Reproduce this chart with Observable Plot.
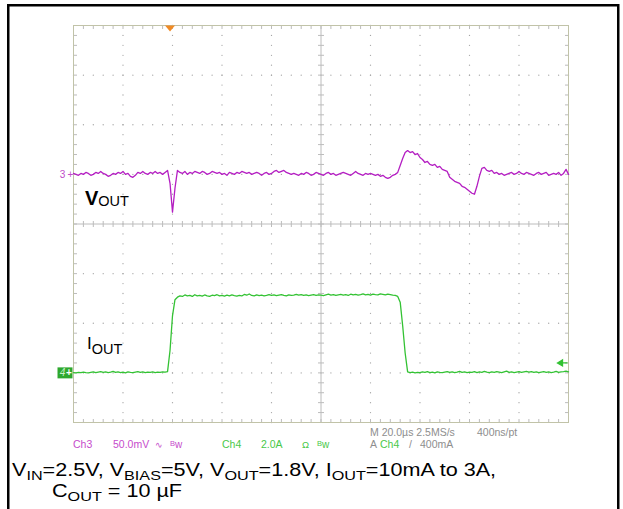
<!DOCTYPE html>
<html>
<head>
<meta charset="utf-8">
<script src="https://cdn.jsdelivr.net/npm/d3@7"></script>
<script src="https://cdn.jsdelivr.net/npm/@observablehq/plot@0.6"></script>
<style>
  html, body { margin: 0; padding: 0; background: #fff; }
  #page { position: relative; width: 623px; height: 509px; overflow: hidden; font-family: "Liberation Sans", Arial, sans-serif; }
  #chart, #overlay { position: absolute; left: 0; top: 0; }
</style>
</head>
<body>
<div id="page">
  <div id="chart"></div>
  <svg id="overlay" width="623" height="509"></svg>
</div>
<script>
// ---- data ----
// time samples, µs (trigger at 0, 20 µs/div, 10 divisions)
const timeUs = d3.range(-40, 161);
// Ch3: VOUT (AC coupled), mV around its own baseline, 50 mV/div
const voutMv = [
  1,0,-1,1,0,2,1,-1,0,2,
  1,3,1,0,-2,-1,1,0,2,1,
  3,0,1,-2,-3,-1,2,1,3,1,
  0,2,1,3,1,2,0,2,4,-9,
  -38,-14,4,2,1,3,0,2,1,3,
  2,1,3,2,0,1,3,2,1,2,
  0,1,-1,2,1,0,2,1,3,2,
  1,2,0,1,2,1,-1,1,2,0,
  1,3,4,2,3,4,2,1,0,1,
  0,-1,1,0,2,1,-1,0,2,1,
  0,-1,1,2,0,1,-1,0,1,2,
  1,0,-1,1,3,1,0,-1,1,0,
  1,0,-1,0,-2,-1,-3,-4,-3,-1,
  0,2,9,16,22,24,22,23,20,21,
  17,15,12,13,10,9,10,7,8,5,
  4,3,-3,-5,-7,-8,-9,-12,-13,-15,
  -17,-19,-20,-12,-2,6,7,4,3,4,
  1,2,0,1,-1,0,1,2,0,1,
  3,1,0,2,1,0,-1,1,2,0,
  1,2,-1,0,1,0,2,-1,1,5,0
];
// Ch4: IOUT, amperes, 2 A/div
const ioutA = [
  0.01,0.00,0.02,0.01,0.03,0.01,0.00,0.02,0.04,0.01,
  0.03,0.05,0.02,0.04,0.01,0.03,0.06,0.02,0.04,0.01,
  0.03,0.00,0.04,0.02,0.01,0.03,0.05,0.02,0.04,0.01,
  0.03,0.02,0.04,0.01,0.03,0.02,0.04,0.03,0.05,0.90,
  2.30,2.95,3.05,3.10,3.08,3.14,3.10,3.12,3.08,3.15,
  3.10,3.12,3.09,3.14,3.10,3.08,3.13,3.11,3.15,3.10,
  3.12,3.09,3.13,3.10,3.14,3.11,3.09,3.12,3.10,3.16,
  3.13,3.18,3.12,3.10,3.14,3.11,3.13,3.10,3.12,3.15,
  3.12,3.14,3.11,3.13,3.15,3.12,3.10,3.14,3.12,3.13,
  3.16,3.13,3.15,3.12,3.14,3.11,3.13,3.15,3.12,3.14,
  3.13,3.11,3.14,3.17,3.13,3.15,3.12,3.14,3.16,3.13,
  3.15,3.12,3.17,3.14,3.16,3.13,3.15,3.18,3.14,3.16,
  3.13,3.17,3.15,3.14,3.18,3.16,3.14,3.17,3.15,3.13,
  3.12,3.08,2.85,1.90,0.80,0.04,0.01,0.03,0.00,0.02,
  0.01,0.04,0.02,0.05,0.01,0.03,0.00,0.04,0.02,0.01,
  0.03,0.05,0.02,0.04,0.01,0.03,0.06,0.02,0.04,0.01,
  0.03,0.02,0.05,0.01,0.04,0.02,0.06,0.03,0.01,0.04,
  0.02,0.05,0.03,0.01,0.04,0.07,0.02,0.04,0.01,0.03,
  0.05,0.02,0.04,0.06,0.03,0.05,0.02,0.04,0.01,0.03,
  0.05,0.02,0.04,0.01,0.03,0.06,0.02,0.04,0.05,0.07,0.04
];
const voutPerDivMv = 50, voutOffsetDiv = 1;
const ioutPerDivA = 2, ioutOffsetDiv = -3;
const triggerTimeUs = -1, triggerLevelA = 0.4;

// ---- text ----
const traceLabels = [["V", "OUT"], ["I", "OUT"]];
const readoutCh3 = ["Ch3", "50.0mV", "∿", "Bw"];
const readoutCh4 = ["Ch4", "2.0A", "Ω", "Bw"];
const readoutTime = ["M 20.0µs 2.5MS/s", "400ns/pt"];
const readoutTrig = ["A", "Ch4", "/", "400mA"];
const captionLine1 = [["V",""],["IN","sub"],["=2.5V, V",""],["BIAS","sub"],["=5V, V",""],["OUT","sub"],["=1.8V, I",""],["OUT","sub"],["=10mA to 3A,",""]];
const captionLine2 = [["C",""],["OUT","sub"],[" = 10 µF",""]];

// ---- build ----
const magenta = "#b41ec2", green = "#33c233";
const vout = timeUs.map((t, i) => ({t, d: voutOffsetDiv + voutMv[i] / voutPerDivMv}));
const iout = timeUs.map((t, i) => ({t, d: ioutOffsetDiv + ioutA[i] / ioutPerDivA}));

const seg = (x1, y1, x2, y2) => ({draw(ctx, size) { const r = Math.sqrt(size / Math.PI); ctx.moveTo(x1 * r, y1 * r); ctx.lineTo(x2 * r, y2 * r); }});
const triDown = {draw(ctx, size) { const r = Math.sqrt(size / Math.PI); ctx.moveTo(-r, 0); ctx.lineTo(r, 0); ctx.lineTo(0, 1.2 * r); ctx.closePath(); }};
const boxLeft = {draw(ctx, size) { const r = Math.sqrt(size / Math.PI); ctx.rect(-16, -r, 15, 2 * r); }};
const arrowLeft = {draw(ctx, size) { ctx.moveTo(-1, 0); ctx.lineTo(-8, 0); ctx.moveTo(-11, 0); ctx.lineTo(-6, -3); ctx.lineTo(-6, 3); ctx.closePath(); }};

const gridT = [-20, 0, 20, 40, 80, 100, 120, 140];
const gridD = [-3, -2, -1, 1, 2, 3];
const fineD = d3.range(-20, 21).map(k => k / 5);
const fineT = d3.range(-40, 161, 4);
const vDots = gridT.flatMap(t => fineD.map(d => ({t, d})));
const hDots = gridD.flatMap(d => fineT.map(t => ({t, d})));
const gridCol = "#a4a4a4", crossCol = "#bcbcbc";

const chart = Plot.plot({
  width: 623, height: 430,
  marginLeft: 73, marginRight: 55, marginTop: 25, marginBottom: 8,
  x: {domain: [-40, 160], axis: null},
  y: {domain: [-4, 4], axis: null},
  style: {background: "transparent", overflow: "visible"},
  marks: [
    Plot.dot(vDots, {x: "t", y: "d", r: 0.65, fill: gridCol}),
    Plot.dot(hDots, {x: "t", y: "d", r: 0.65, fill: gridCol}),
    Plot.ruleX([60], {stroke: crossCol}),
    Plot.ruleY([0], {stroke: crossCol}),
    Plot.dot(fineD.map(d => ({t: 60, d})), {x: "t", y: "d", symbol: seg(-1, 0, 1, 0), r: 3, stroke: crossCol, fill: "none", strokeWidth: 1}),
    Plot.dot(fineT.map(t => ({t, d: 0})), {x: "t", y: "d", symbol: seg(0, -1, 0, 1), r: 3, stroke: crossCol, fill: "none", strokeWidth: 1}),
    Plot.dot(fineD.map(d => ({t: -40, d})), {x: "t", y: "d", symbol: seg(0, 0, 1, 0), r: 3.5, stroke: crossCol, fill: "none", strokeWidth: 1}),
    Plot.dot(fineD.map(d => ({t: 160, d})), {x: "t", y: "d", symbol: seg(-1, 0, 0, 0), r: 3.5, stroke: crossCol, fill: "none", strokeWidth: 1}),
    Plot.dot(fineT.map(t => ({t, d: 4})), {x: "t", y: "d", symbol: seg(0, 0, 0, 1), r: 3.5, stroke: crossCol, fill: "none", strokeWidth: 1}),
    Plot.dot(fineT.map(t => ({t, d: -4})), {x: "t", y: "d", symbol: seg(0, -1, 0, 0), r: 3.5, stroke: crossCol, fill: "none", strokeWidth: 1}),
    Plot.frame({stroke: "#c1c3a8"}),
    Plot.line(vout, {x: "t", y: "d", stroke: magenta, strokeWidth: 1.3}),
    Plot.line(iout, {x: "t", y: "d", stroke: green, strokeWidth: 1.3}),
    // channel 3 ground marker
    Plot.text([{t: -40, d: voutOffsetDiv}], {x: "t", y: "d", text: () => "3", dx: -11, fill: "#c04cc8", fontSize: 10, fontFamily: "Liberation Sans, Arial"}),
    Plot.text([{t: -40, d: voutOffsetDiv}], {x: "t", y: "d", text: () => "+", dx: -3, fill: "#c04cc8", fontSize: 10, fontFamily: "Liberation Sans, Arial"}),
    // channel 4 ground marker
    Plot.dot([{t: -40, d: ioutOffsetDiv}], {x: "t", y: "d", symbol: boxLeft, r: 5.5, fill: "#2ea82e", stroke: "none"}),
    Plot.text([{t: -40, d: ioutOffsetDiv}], {x: "t", y: "d", text: () => "4", dx: -11, fill: "#c8f0c8", fontSize: 10, fontStyle: "italic", fontFamily: "Liberation Sans, Arial"}),
    Plot.text([{t: -40, d: ioutOffsetDiv}], {x: "t", y: "d", text: () => "+", dx: -4.5, fill: "#ffffff", fontSize: 10, fontWeight: "bold", fontFamily: "Liberation Sans, Arial"}),
    // trigger position and level
    Plot.dot([{t: triggerTimeUs, d: 4}], {x: "t", y: "d", symbol: triDown, r: 5, fill: "#f08a24", stroke: "none"}),
    Plot.dot([{t: 160, d: ioutOffsetDiv + triggerLevelA / ioutPerDivA}], {x: "t", y: "d", symbol: arrowLeft, r: 5, fill: green, stroke: green, strokeWidth: 1.3})
  ]
});
document.getElementById("chart").appendChild(chart);

// ---- overlay texts ----
const svg = d3.select("#overlay");
svg.append("path").attr("d", "M8.25,509 V5.25 H618.25 V509").attr("fill", "none").attr("stroke", "#000").attr("stroke-width", 2.5);

function label(x, y, parts, mainSize, subSize, subDy, weightMain) {
  const t = svg.append("text").attr("x", x).attr("y", y).attr("font-family", "Liberation Sans, Arial, sans-serif").attr("fill", "#000");
  t.append("tspan").attr("font-size", mainSize).attr("font-weight", weightMain).text(parts[0]);
  t.append("tspan").attr("font-size", subSize).attr("dy", subDy).text(parts[1]);
}
label(85, 205, traceLabels[0], 20, 14.5, 1, "bold");
label(87, 349, traceLabels[1], 17, 14.5, 5, "normal");

function small(x, y, txt, color, size = 10.5) {
  return svg.append("text").attr("x", x).attr("y", y).attr("font-family", "Liberation Sans, Arial, sans-serif")
    .attr("font-size", size).attr("fill", color).text(txt);
}
const m3 = "#c64ccc", g4 = "#48c848", gr = "#8e8e8e";
small(73, 448, readoutCh3[0], m3);
small(113, 448, readoutCh3[1], m3);
small(155, 448, readoutCh3[2], m3, 9);
small(170, 446, readoutCh3[3][0], m3, 7.5);
small(175, 448, readoutCh3[3][1], m3, 10);
small(222, 448, readoutCh4[0], g4);
small(261, 448, readoutCh4[1], g4);
small(302, 448, readoutCh4[2], g4, 9.5);
small(317, 446, readoutCh4[3][0], g4, 7.5);
small(322, 448, readoutCh4[3][1], g4, 10);
small(370, 436, readoutTime[0], gr);
small(477, 436, readoutTime[1], gr);
small(370, 448, readoutTrig[0], gr);
small(380, 448, readoutTrig[1], g4);
small(409, 448, readoutTrig[2], gr);
small(420, 448, readoutTrig[3], gr);

function caption(x, y, parts, scaleX) {
  const t = svg.append("text").attr("transform", `translate(${x},${y}) scale(${scaleX},1)`)
    .attr("font-family", "Liberation Sans, Arial, sans-serif").attr("fill", "#000");
  let sub = false;
  for (const [txt, kind] of parts) {
    const isSub = kind === "sub";
    const sp = t.append("tspan").attr("font-size", isSub ? 13.5 : 18).text(txt);
    if (isSub !== sub) sp.attr("dy", isSub ? 3.5 : -3.5);
    sub = isSub;
  }
}
caption(12, 476, captionLine1, 1.2);
caption(52, 497, captionLine2, 1.2);
</script>
</body>
</html>
